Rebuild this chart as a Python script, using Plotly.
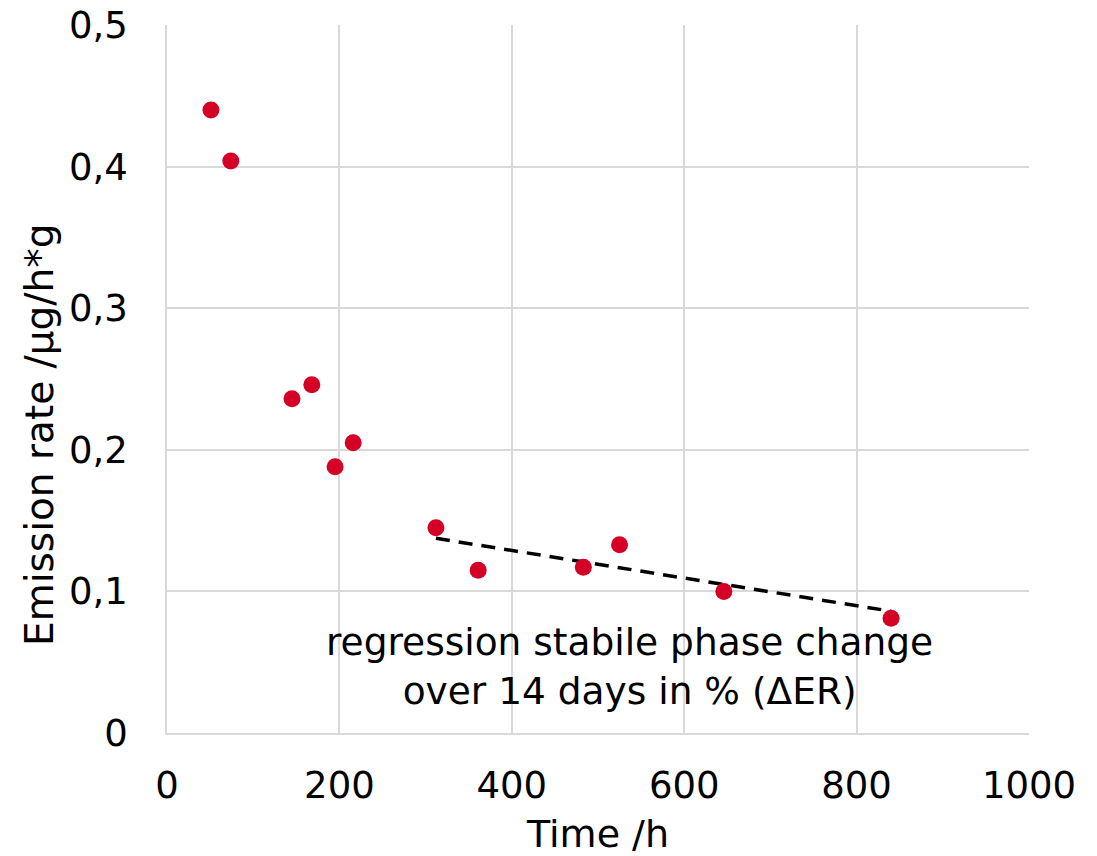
import plotly.graph_objects as go

time_h = [51, 74, 145, 168, 195, 216, 312, 361, 483, 525, 646, 840]
emission = [0.440, 0.404, 0.236, 0.246, 0.188, 0.205, 0.145, 0.115, 0.117, 0.133, 0.100, 0.081]

reg_x = [312, 840]
reg_y = [0.1375, 0.086]

x_ticks = [0, 200, 400, 600, 800, 1000]
y_ticks = [0, 0.1, 0.2, 0.3, 0.4, 0.5]

FONT = "DejaVu Sans"
GRID = "#D9D9D9"

fig = go.Figure()
fig.add_trace(go.Scatter(x=reg_x, y=reg_y, mode="lines",
                         line=dict(color="black", width=3.5, dash="14px,9px"),
                         hoverinfo="skip", showlegend=False))
fig.add_trace(go.Scatter(x=time_h, y=emission, mode="markers",
                         marker=dict(color="#D40025", size=17),
                         showlegend=False))

fig.add_annotation(x=536, y=0.0473, xref="x", yref="y",
                   text="regression stabile phase change<br>over 14 days in % (ΔER)",
                   showarrow=False, font=dict(family=FONT, size=37.5, color="black"),
                   align="center", xanchor="center", yanchor="middle")

fig.add_annotation(x=-0.1473, y=0.421, xref="paper", yref="paper",
                   text="Emission rate /µg/h*g", textangle=-90,
                   showarrow=False, font=dict(family=FONT, size=39, color="black"),
                   xanchor="center", yanchor="middle")

fig.update_layout(
    width=1097, height=856,
    margin=dict(l=167, r=68, t=25, b=123, autoexpand=False),
    paper_bgcolor="white", plot_bgcolor="white",
    separators=", ",
    font=dict(family=FONT, size=37, color="black"),
    xaxis=dict(range=[0, 1000], tickvals=x_ticks, showgrid=True, gridcolor=GRID,
               gridwidth=1.5, zeroline=False, showline=True, linecolor=GRID, linewidth=1.5,
               ticks="", ticklabelstandoff=19, automargin=False,
               title=dict(text="Time /h", font=dict(size=38), standoff=14)),
    yaxis=dict(range=[0, 0.5], tickvals=y_ticks, showgrid=True, gridcolor=GRID,
               gridwidth=1.5, zeroline=False, showline=True, linecolor=GRID, linewidth=1.5,
               ticks="", ticklabelstandoff=30, automargin=False),
)

fig.write_html("out.html")
